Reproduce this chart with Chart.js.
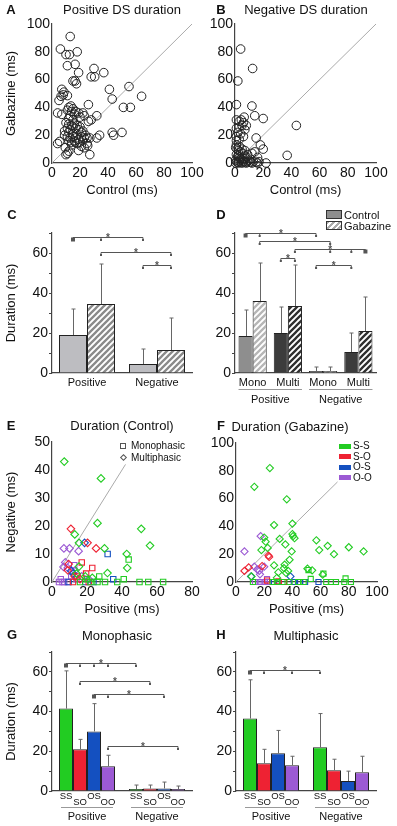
<!DOCTYPE html>
<html lang="en">
<head>
<meta charset="UTF-8" />
<title>DS duration: control vs gabazine</title>
<script src="https://cdn.jsdelivr.net/npm/chart.js"></script>
<style>
  body { margin: 0; background: #fff; font-family: "Liberation Sans", Arial, sans-serif; color: #111; }
  #fig { position: relative; width: 397px; height: 826px; overflow: hidden; }
  #fig canvas { position: absolute; }
  .t { position: absolute; white-space: nowrap; transform: translate(-50%, -50%); font-size: 13px; }
  .let { position: absolute; font-weight: bold; font-size: 13px; transform: translate(-50%, -50%); }
  .leg { position: absolute; white-space: nowrap; line-height: 1; transform: translateY(-50%); }
  .sw { position: absolute; box-sizing: border-box; }
</style>
</head>
<body>
<div id="fig">
  <canvas id="pa"></canvas>
  <canvas id="pb"></canvas>
  <canvas id="pc"></canvas>
  <canvas id="pd"></canvas>
  <canvas id="pe"></canvas>
  <canvas id="pf"></canvas>
  <canvas id="pg"></canvas>
  <canvas id="ph"></canvas>

  <div class="let" style="left:11px;top:9px">A</div>
  <div class="t" style="left:122px;top:9px">Positive DS duration</div>
  <div class="let" style="left:221px;top:9px">B</div>
  <div class="t" style="left:306px;top:9px">Negative DS duration</div>
  <div class="let" style="left:12px;top:214px">C</div>
  <div class="let" style="left:221px;top:214px">D</div>
  <div class="let" style="left:11px;top:425px">E</div>
  <div class="t" style="left:122px;top:425px">Duration (Control)</div>
  <div class="let" style="left:221px;top:425px">F</div>
  <div class="t" style="left:290px;top:426px">Duration (Gabazine)</div>
  <div class="let" style="left:12px;top:634px">G</div>
  <div class="t" style="left:117px;top:635px">Monophasic</div>
  <div class="let" style="left:221px;top:634px">H</div>
  <div class="t" style="left:306px;top:635px">Multiphasic</div>

  <!-- legend D -->
  <div class="sw" style="left:326px;top:210px;width:16px;height:9px;background:#8e8e8e;border:1px solid #333"></div>
  <div class="leg" style="left:344px;top:215px;font-size:11px">Control</div>
  <div class="sw" style="left:326px;top:221px;width:16px;height:9px;border:1px solid #333;background:repeating-linear-gradient(135deg,#aaa 0 2px,#fff 2px 4px)"></div>
  <div class="leg" style="left:344px;top:226px;font-size:11px">Gabazine</div>

  <!-- legend E -->
  <div class="sw" style="left:120px;top:443px;width:6px;height:6px;border:1px solid #555"></div>
  <div class="leg" style="left:131px;top:446px;font-size:10px">Monophasic</div>
  <div class="sw" style="left:121px;top:455px;width:5px;height:5px;border:1px solid #555;transform:rotate(45deg)"></div>
  <div class="leg" style="left:131px;top:458px;font-size:10px">Multiphasic</div>

  <!-- legend F -->
  <div id="legF"></div>
</div>

<script>
// ---------- data ----------
// A: positive DS, [control, gabazine] ms
const posPairs = [
  [13,91],[6,82],[10,78],[12.5,78],[18,80],[11,70],[16.5,71],[19,65],[30,68],[37,65],
  [28,62],[30.5,62],[15,59],[16.5,59],[17.5,57],[41,53],[55,55],[7,53],[8.5,51],[8,49],
  [6.5,48],[5,45],[11,48.5],[43,46],[64,48],[51,40],[56,40],[26,42],[4,36],[7,35],
  [12,40],[13.5,41],[15,39],[11,38],[14,37],[17,37],[19,36],[22,36],[16,35],[13,34],
  [23,34],[20,33],[12,32],[15,31],[32,34],[28,31],[26,30],[10,29],[12,28],[14,27],
  [16,28],[18,27],[20,26],[11,25],[13,24],[15,26],[17,25],[19,24],[22,23],[9,23],
  [12,22],[15,21],[21,22],[24,20],[9,20],[11,19],[13,18],[15,19],[17,18],[19,17],
  [21,19],[23,18],[25,18],[27,18],[12,16],[14,15],[16,16],[18,14],[20,15],[22,16],
  [34,20],[32,18],[43,22],[44,20],[50,22],[4,14],[5.5,15.5],[9.5,11],[11,7],[12,8.5],
  [19,9],[27,6],[21,12],[25,14],[25.5,12.5],[14,13],[16.5,15],[10,6],[23,11]
];
// B: negative DS, [control, gabazine] ms
const negPairs = [
  [4,82],[12.5,68],[2,59],[1,42],[12,41],[14,34],[20,32],[6.5,33],[1,31],[3,30],
  [4.5,31],[6,29],[1,25],[3,26],[5,27],[8,27],[7,24],[2,22],[4,21],[1,19],
  [6,19],[3,17],[1,16],[43.5,27],[15,18],[18,13],[20,10],[37,5.5],[22,0],[14,8],
  [12,7],[16,4],[0.5,11],[1.5,10],[2.5,9],[4,8],[5.5,7],[7,5],[8.5,4],[1,6],
  [2,5],[3,4],[4,3],[5,2],[6,3],[0.5,2],[1,1],[2,0.5],[3,1.5],[4.5,0.5],
  [6,1],[7.5,0.5],[9,1],[10,2],[11,0.5],[13,1],[15,0.5],[17,1],[0.5,0],[2.5,0],
  [5,0],[8,0],[12,0],[16,0],[3,12],[5,10],[1,13],[7,9],[9,6]
];
const diagAB = [[0,0],[100,100]];
const diagE = [[0,0],[42,42]];
const diagF = [[0,0],[72,72]];

// C: mean and mean+SD, by polarity
const sideCats = ['Positive', 'Negative'];
const ctrlMean = [19, 4.5];
const ctrlTop = [32, 12];
const gabMean = [34.5, 11.5];
const gabTop = [54.5, 27.5];

// D: by polarity x waveform
const phaseCats = ['Mono', 'Multi', 'Mono', 'Multi'];
const ctrlPhaseMean = [18.5, 20, 1, 10.5];
const ctrlPhaseTop = [31.5, 33, 3, 20];
const gabPhaseMean = [36, 33.5, 1, 21];
const gabPhaseTop = [55, 54, 3, 38];

// E: control, [positive, negative] ms
const ctlMonoSS = [[43.8,8],[41,1],[37.3,0],[50,0],[55,0],[63.5,0],[30.3,0],[27,2],[26,0],[22,0],[20,1],[16,0]];
const ctlMultiSS = [[7,43],[28,37],[26,21],[13,17],[15.4,14],[30,12],[42.7,10],[43,5],[51,19],[56,13],[31.7,3.2],[15.4,5.5],[14,3],[19,2],[23,1.5]];
const ctlMonoSO = [[23,5],[17,7],[19.5,3],[14.5,2],[21,0],[12,0]];
const ctlMultiSO = [[10.8,19],[20.3,14],[25.2,12],[9.5,6.4],[9,4.2],[13,2],[16,1]];
const ctlMonoOS = [[31.8,10],[35,1],[23.7,0],[9.5,0],[19,0]];
const ctlMultiOS = [[18.6,14],[12,3],[11,4]];
const ctlMonoOO = [[12.7,6],[5,1],[7,0],[9,0],[4,0],[11,2],[14,1],[6,0]];
const ctlMultiOO = [[6.8,12],[10,12],[15.2,11],[7.6,7],[6.6,5.4],[9,5],[13,4],[17,2],[21,1]];

// F: gabazine, [positive, negative] ms
const gabMonoSS = [[51.4,8.6],[53,2.2],[62,6],[77.7,2.6],[64,0],[67.3,0],[70.9,0],[76.8,0],[81.5,0],[12,0],[26,0],[29,0],[33,0],[38,0],[44,0],[48,0]];
const gabMultiSS = [[24,82],[13,68.5],[36,59.5],[27,41],[40,42],[40,34.5],[40.5,33],[41.5,31.5],[57,30],[31,31],
  [20,32],[21,29],[22.5,24.5],[18,23],[35,27],[59,23],[65,26],[69.5,20],[80,25],[90.5,22],
  [38,16],[39.5,22],[27,12],[34.5,12.5],[34,10],[30,7],[35.5,6.5],[50.7,9.6],[54,8.4],[61.5,5.3],
  [11,4],[29,3],[37,8]];
const gabMonoSO = [[34,0],[30,0.5],[22,1]];
const gabMultiSO = [[6,8],[9,10.5],[18.5,11.5],[23,19],[23.5,18]];
const gabMonoOS = [[30,0],[41,0],[45.5,0],[49,0],[58.5,0],[27,0]];
const gabMultiOS = [[10.7,4],[38.6,4]];
const gabMonoOO = [[13.5,0],[16,0],[18,0],[20.5,0],[23,0],[22,2]];
const gabMultiOO = [[6,22],[17.5,33],[13,11],[16.5,8],[17,5.5],[20,11],[15,9]];

// G, H: per pair [positive, negative]
const pairNames = ['SS', 'SO', 'OS', 'OO'];
const pairLegend = ['S-S', 'S-O', 'O-S', 'O-O'];
const monoMean = [[41.5, 1], [21, 1.2], [30, 1.3], [12.5, 1]];
const monoTop = [[60.5, 3], [26, 3], [44, 4.5], [18, 2.5]];
const multiMean = [[36.5, 22], [14, 10.5], [19, 5], [13, 9.5]];
const multiTop = [[56, 39], [21, 16], [30.5, 10], [17.5, 17.5]];

// ---------- look ----------
const FONT = '"Liberation Sans", Arial, sans-serif';
const pairColors = ['#22cc22', '#ee2233', '#1450c0', '#9c5ad4'];
const axisColor = '#444';

Chart.defaults.font.family = FONT;
Chart.defaults.color = '#111';
Chart.defaults.animation = false;

function hatch(color) {
  const c = document.createElement('canvas');
  c.width = c.height = 6;
  const x = c.getContext('2d');
  x.fillStyle = '#fff';
  x.fillRect(0, 0, 6, 6);
  x.strokeStyle = color;
  x.lineWidth = 2.3;
  x.beginPath();
  x.moveTo(-1, 7); x.lineTo(7, -1);
  x.moveTo(-1, 1); x.lineTo(1, -1);
  x.moveTo(5, 7); x.lineTo(7, 5);
  x.stroke();
  return x.createPattern(c, 'repeat');
}

// canvas box [left, top, w, h], plot box [x1, y1, x2, y2]
function place(id, box, plot, yW, xH) {
  const cv = document.getElementById(id);
  cv.width = box[2];
  cv.height = box[3];
  cv.style.left = box[0] + 'px';
  cv.style.top = box[1] + 'px';
  return {
    ctx: cv,
    padding: {
      left: plot[0] - box[0] - yW,
      top: plot[1] - box[1],
      right: box[0] + box[2] - plot[2],
      bottom: box[1] + box[3] - plot[3] - xH
    }
  };
}

// ---------- plugins ----------
const errorBars = {
  id: 'errorBars',
  afterDatasetsDraw(chart) {
    const ctx = chart.ctx, ys = chart.scales.y;
    ctx.save();
    ctx.strokeStyle = '#666';
    ctx.lineWidth = 1;
    chart.data.datasets.forEach((ds, d) => {
      if (!ds.errTop) return;
      chart.getDatasetMeta(d).data.forEach((bar, i) => {
        const yTop = ys.getPixelForValue(ds.errTop[i]);
        const x = Math.round(bar.x) + 0.5;
        ctx.beginPath();
        ctx.moveTo(x, bar.y);
        ctx.lineTo(x, yTop);
        ctx.moveTo(x - 2, yTop);
        ctx.lineTo(x + 2, yTop);
        ctx.stroke();
      });
    });
    ctx.restore();
  }
};

const brackets = {
  id: 'brackets',
  afterDatasetsDraw(chart, args, opts) {
    if (!opts.items) return;
    const ctx = chart.ctx, ys = chart.scales.y;
    const px = p => chart.getDatasetMeta(p[0]).data[p[1]].x;
    ctx.save();
    ctx.strokeStyle = ctx.fillStyle = '#555';
    ctx.lineWidth = 1;
    opts.items.forEach(b => {
      const y = Math.round(ys.getPixelForValue(b.y)) + 0.5;
      const x1 = px(b.from), x2 = px(b.to);
      ctx.beginPath();
      ctx.moveTo(x1, y + 3); ctx.lineTo(x1, y); ctx.lineTo(x2, y); ctx.lineTo(x2, y + 3);
      (b.mids || []).forEach(m => { ctx.moveTo(px(m), y); ctx.lineTo(px(m), y + 2); });
      ctx.stroke();
      [b.from, b.to, ...(b.mids || [])].forEach(p => ctx.fillRect(px(p) - 1, y + 1.5, 2, 2));
      if (b.ref) {
        const xr = px(b[b.ref]);
        ctx.fillRect(xr - 2, y, 4, 4);
      }
      ctx.font = 'bold 10px ' + FONT;
      ctx.textAlign = 'center';
      ctx.textBaseline = 'alphabetic';
      ctx.fillText('*', (x1 + x2) / 2, y + 3);
    });
    ctx.restore();
  }
};

const groups = {
  id: 'groups',
  afterDraw(chart, args, opts) {
    if (!opts.items) return;
    const ctx = chart.ctx, bottom = chart.chartArea.bottom;
    const metas = chart.getSortedVisibleDatasetMetas().filter(m => m.type === 'bar');
    ctx.save();
    ctx.font = '11px ' + FONT;
    ctx.fillStyle = '#111';
    ctx.strokeStyle = '#999';
    ctx.lineWidth = 1;
    ctx.textAlign = 'center';
    ctx.textBaseline = 'middle';
    opts.items.forEach(g => {
      const a = metas[0].data[g.from], z = metas[metas.length - 1].data[g.to];
      const x1 = a.x - a.width / 2 + opts.inset, x2 = z.x + z.width / 2 - opts.inset;
      const yl = Math.round(bottom + opts.lineOffset) + 0.5;
      ctx.beginPath();
      ctx.moveTo(x1, yl); ctx.lineTo(x2, yl);
      ctx.stroke();
      ctx.fillText(g.text, (x1 + x2) / 2, bottom + opts.textOffset);
    });
    ctx.restore();
  }
};

const subLabels = {
  id: 'subLabels',
  afterDraw(chart, args, opts) {
    if (!opts.names) return;
    const ctx = chart.ctx, bottom = chart.chartArea.bottom;
    ctx.save();
    ctx.font = '9.5px ' + FONT;
    ctx.fillStyle = '#111';
    ctx.textAlign = 'center';
    ctx.textBaseline = 'middle';
    chart.data.datasets.forEach((ds, d) => {
      chart.getDatasetMeta(d).data.forEach(bar => {
        ctx.fillText(opts.names[d], bar.x, bottom + (d % 2 ? 11 : 5.5));
      });
    });
    ctx.restore();
  }
};

// ---------- option builders ----------
function scatterScales(xMax, yMax, yStep, xTitle, yTitle, yW) {
  return {
    x: {
      type: 'linear', min: 0, max: xMax,
      afterFit: s => { s.height = 35; },
      ticks: { stepSize: 20, padding: 2, font: { size: 14 }, maxRotation: 0, minRotation: 0, autoSkip: false },
      grid: { display: false, drawTicks: false },
      border: { color: axisColor, width: 1.2 },
      title: { display: true, text: xTitle, font: { size: 13 }, padding: 0 }
    },
    y: {
      type: 'linear', min: 0, max: yMax,
      afterFit: s => { s.width = yW; },
      ticks: { stepSize: yStep, padding: 2, font: { size: 14 }, autoSkip: false },
      grid: { display: false, drawTicks: false },
      border: { color: axisColor, width: 1.2 },
      title: { display: !!yTitle, text: yTitle || '', font: { size: 13 }, padding: 0 }
    }
  };
}

function barScales(yTitle, yW, showX) {
  return {
    x: {
      afterFit: s => { s.height = 30; },
      ticks: { display: showX, font: { size: 11 }, padding: 3, maxRotation: 0, autoSkip: false },
      grid: { display: false, drawTicks: false },
      border: { color: axisColor, width: 1.2 }
    },
    y: {
      min: 0, max: 70,
      afterFit: s => { s.width = yW; },
      ticks: { stepSize: 10, autoSkip: false, padding: 1, font: { size: 14 },
               callback: v => (v % 20 === 0 ? v : '') },
      grid: { drawOnChartArea: false, tickLength: 3, color: axisColor },
      border: { color: axisColor, width: 1.2 },
      title: { display: !!yTitle, text: yTitle || '', font: { size: 13 }, padding: 0 }
    }
  };
}

const toXY = pts => pts.map(p => ({ x: p[0], y: p[1] }));
const quiet = { legend: { display: false }, tooltip: { enabled: false } };

function circles(pts) {
  return { data: toXY(pts), pointStyle: 'circle', pointRadius: 4.3, borderColor: '#222',
           backgroundColor: 'rgba(0,0,0,0)', borderWidth: 1, clip: false };
}
function shapes(pts, color, style, r) {
  return { data: toXY(pts), pointStyle: style, pointRadius: r, borderColor: color,
           backgroundColor: 'rgba(0,0,0,0)', borderWidth: 1.1, clip: false };
}
function diagLine(pts) {
  return { type: 'line', data: toXY(pts), borderColor: '#aaa', borderWidth: 1,
           pointRadius: 0, showLine: true, clip: false };
}

// ---------- A ----------
let p = place('pa', [0, 0, 215, 200], [52, 24, 192, 163], 48, 35);
new Chart(p.ctx, {
  type: 'scatter',
  data: { datasets: [circles(posPairs), diagLine(diagAB)] },
  options: { responsive: false, layout: { padding: p.padding }, plugins: quiet,
             scales: scatterScales(100, 100, 20, 'Control (ms)', 'Gabazine (ms)', 48) }
});

// ---------- B ----------
p = place('pb', [200, 0, 197, 200], [235, 24, 376, 163], 30, 35);
new Chart(p.ctx, {
  type: 'scatter',
  data: { datasets: [circles(negPairs), diagLine(diagAB)] },
  options: { responsive: false, layout: { padding: p.padding }, plugins: quiet,
             scales: scatterScales(100, 100, 20, 'Control (ms)', null, 30) }
});

// ---------- C ----------
p = place('pc', [0, 200, 200, 215], [52, 233, 192, 373], 48, 30);
new Chart(p.ctx, {
  type: 'bar',
  data: {
    labels: sideCats,
    datasets: [
      { data: ctrlMean, errTop: ctrlTop, backgroundColor: '#bdbdc1' },
      { data: gabMean, errTop: gabTop, backgroundColor: hatch('#8a8a8a') }
    ]
  },
  options: {
    responsive: false, layout: { padding: p.padding },
    datasets: { bar: { barPercentage: 1, categoryPercentage: 0.8, borderWidth: 1, borderColor: '#222' } },
    plugins: Object.assign({
      brackets: { items: [
        { y: 68, from: [0, 0], to: [0, 1], mids: [[1, 0]], ref: 'from' },
        { y: 60.5, from: [1, 0], to: [1, 1] },
        { y: 54, from: [0, 1], to: [1, 1] }
      ] }
    }, quiet),
    scales: barScales('Duration (ms)', 48, true)
  },
  plugins: [errorBars, brackets]
});

// ---------- D ----------
p = place('pd', [200, 200, 197, 215], [235, 233, 376, 373], 30, 30);
const monoGray = '#8e8e8e', multiGray = '#3c3c3c';
const hatchLight = hatch('#b6b6b6'), hatchDark = hatch('#2e2e2e');
new Chart(p.ctx, {
  type: 'bar',
  data: {
    labels: phaseCats,
    datasets: [
      { data: ctrlPhaseMean, errTop: ctrlPhaseTop,
        backgroundColor: [monoGray, multiGray, monoGray, multiGray] },
      { data: gabPhaseMean, errTop: gabPhaseTop,
        backgroundColor: [hatchLight, hatchDark, hatchLight, hatchDark] }
    ]
  },
  options: {
    responsive: false, layout: { padding: p.padding },
    datasets: { bar: { barPercentage: 1, categoryPercentage: 0.8, borderWidth: 1, borderColor: '#222' } },
    plugins: Object.assign({
      brackets: { items: [
        { y: 70, from: [0, 0], to: [0, 2], mids: [[1, 0]], ref: 'from' },
        { y: 66, from: [1, 0], to: [1, 2] },
        { y: 62, from: [1, 1], to: [1, 3], mids: [[1, 2], [0, 3]], ref: 'to' },
        { y: 57.5, from: [0, 1], to: [1, 1] },
        { y: 54, from: [0, 2], to: [0, 3] }
      ] },
      groups: { lineOffset: 15.5, textOffset: 26.5, inset: 0, items: [
        { text: 'Positive', from: 0, to: 1 },
        { text: 'Negative', from: 2, to: 3 }
      ] }
    }, quiet),
    scales: barScales(null, 30, true)
  },
  plugins: [errorBars, brackets, groups]
});

// ---------- E ----------
const ctlMono = [ctlMonoSS, ctlMonoSO, ctlMonoOS, ctlMonoOO];
const ctlMulti = [ctlMultiSS, ctlMultiSO, ctlMultiOS, ctlMultiOO];
const gabMono = [gabMonoSS, gabMonoSO, gabMonoOS, gabMonoOO];
const gabMulti = [gabMultiSS, gabMultiSO, gabMultiOS, gabMultiOO];

function typeSets(mono, multi, r) {
  const out = [];
  pairColors.forEach((c, i) => {
    out.push(shapes(mono[i], c, 'rect', r));
    out.push(shapes(multi[i], c, 'rectRot', r));
  });
  return out;
}

p = place('pe', [0, 420, 215, 200], [52, 442, 192, 582], 48, 35);
new Chart(p.ctx, {
  type: 'scatter',
  data: { datasets: typeSets(ctlMono, ctlMulti, 3.8).concat([diagLine(diagE)]) },
  options: { responsive: false, layout: { padding: p.padding }, plugins: quiet,
             scales: scatterScales(80, 50, 10, 'Positive (ms)', 'Negative (ms)', 48) }
});

// ---------- F ----------
p = place('pf', [200, 420, 197, 200], [236, 443, 377, 582], 30, 35);
new Chart(p.ctx, {
  type: 'scatter',
  data: { datasets: typeSets(gabMono, gabMulti, 3.6).concat([diagLine(diagF)]) },
  options: { responsive: false, layout: { padding: p.padding }, plugins: quiet,
             scales: scatterScales(100, 100, 20, 'Positive (ms)', null, 30) }
});

// legend F (colour per pair)
const legF = document.getElementById('legF');
pairLegend.forEach((name, i) => {
  const y = 446 + i * 10.5;
  legF.insertAdjacentHTML('beforeend',
    `<div class="sw" style="left:339px;top:${y - 2.5}px;width:12px;height:5px;background:${pairColors[i]}"></div>` +
    `<div class="leg" style="left:353px;top:${y}px;font-size:10px">${name}</div>`);
});

// ---------- G, H ----------
function pairSets(mean, top) {
  return pairColors.map((c, i) => ({ data: mean[i], errTop: top[i], backgroundColor: c }));
}
function pairOptions(pad, yTitle, yW, items) {
  return {
    responsive: false, layout: { padding: pad },
    datasets: { bar: { barPercentage: 1, categoryPercentage: 0.8, borderWidth: 1, borderColor: '#222' } },
    plugins: Object.assign({
      brackets: { items },
      subLabels: { names: pairNames },
      groups: { lineOffset: 15.5, textOffset: 26, inset: 2, items: [
        { text: 'Positive', from: 0, to: 0 },
        { text: 'Negative', from: 1, to: 1 }
      ] }
    }, quiet),
    scales: barScales(yTitle, yW, false)
  };
}

p = place('pg', [0, 620, 200, 206], [52, 652, 192, 791], 48, 30);
new Chart(p.ctx, {
  type: 'bar',
  data: { labels: sideCats, datasets: pairSets(monoMean, monoTop) },
  options: pairOptions(p.padding, 'Duration (ms)', 48, [
    { y: 64.5, from: [0, 0], to: [0, 1], mids: [[1, 0], [2, 0], [3, 0]], ref: 'from' },
    { y: 55.5, from: [1, 0], to: [1, 1] },
    { y: 49, from: [2, 0], to: [2, 1], mids: [[3, 0]], ref: 'from' },
    { y: 22.5, from: [3, 0], to: [3, 1] }
  ]),
  plugins: [errorBars, brackets, subLabels, groups]
});

p = place('ph', [200, 620, 197, 206], [236, 652, 376, 791], 30, 30);
new Chart(p.ctx, {
  type: 'bar',
  data: { labels: sideCats, datasets: pairSets(multiMean, multiTop) },
  options: pairOptions(p.padding, null, 30, [
    { y: 61, from: [0, 0], to: [0, 1], mids: [[1, 0], [3, 0]], ref: 'from' }
  ]),
  plugins: [errorBars, brackets, subLabels, groups]
});
</script>
</body>
</html>
